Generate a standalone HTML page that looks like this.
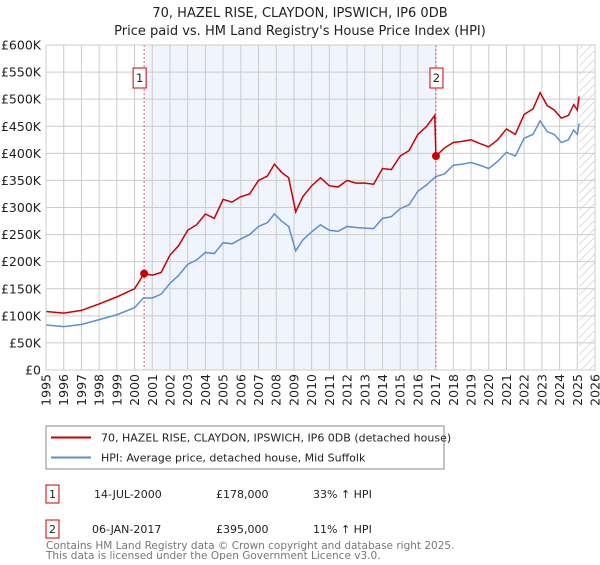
<!DOCTYPE html>
<html><head><meta charset="utf-8"><style>
body{margin:0;background:#fff;font-family:"Liberation Sans","DejaVu Sans",sans-serif;}
svg text{font-family:"DejaVu Sans","Liberation Sans",sans-serif;}
</style></head><body>
<svg id="c" width="600" height="560" xmlns="http://www.w3.org/2000/svg">
<defs><pattern id="hatch" width="6" height="6" patternUnits="userSpaceOnUse" patternTransform="rotate(45)"><line x1="0" y1="0" x2="0" y2="6" stroke="#bbb" stroke-width="1"/></pattern></defs>
<text x="300" y="17" text-anchor="middle" font-size="13" fill="#222">70, HAZEL RISE, CLAYDON, IPSWICH, IP6 0DB</text>
<text x="300" y="35" text-anchor="middle" font-size="13" fill="#222">Price paid vs. HM Land Registry's House Price Index (HPI)</text>
<g id="plot"></g>
<rect x="46" y="426" width="398" height="43" fill="#fff" stroke="#888"/>
<line x1="51" y1="437.5" x2="91" y2="437.5" stroke="#cc0000" stroke-width="2"/>
<text x="101" y="441.5" font-size="11" fill="#222">70, HAZEL RISE, CLAYDON, IPSWICH, IP6 0DB (detached house)</text>
<line x1="51" y1="457.5" x2="91" y2="457.5" stroke="#5b8fd0" stroke-width="2"/>
<text x="101" y="461.5" font-size="11" fill="#222">HPI: Average price, detached house, Mid Suffolk</text>
<g>
<rect x="46" y="485" width="13" height="18" fill="#fff" stroke="#cc0000"/>
<text x="52.5" y="498" text-anchor="middle" font-size="11" fill="#222">1</text>
<text x="94" y="498" font-size="11" fill="#222">14-JUL-2000</text>
<text x="216" y="498" font-size="11" fill="#222">£178,000</text>
<text x="313" y="498" font-size="11" fill="#222">33% ↑ HPI</text></g>
<g>
<rect x="46" y="520" width="13" height="18" fill="#fff" stroke="#cc0000"/>
<text x="52.5" y="533" text-anchor="middle" font-size="11" fill="#222">2</text>
<text x="92" y="533" font-size="11" fill="#222">06-JAN-2017</text>
<text x="216" y="533" font-size="11" fill="#222">£395,000</text>
<text x="313" y="533" font-size="11" fill="#222">11% ↑ HPI</text></g>
<text x="46" y="549" font-size="10.5" fill="#777">Contains HM Land Registry data © Crown copyright and database right 2025.</text>
<text x="46" y="559" font-size="10.5" fill="#777">This data is licensed under the Open Government Licence v3.0.</text>
</svg>
<script>
const yTicks=[0,50,100,150,200,250,300,350,400,450,500,550,600];
const yTickLabels=["£0","£50K","£100K","£150K","£200K","£250K","£300K","£350K","£400K","£450K","£500K","£550K","£600K"];
const xYears=[1995,1996,1997,1998,1999,2000,2001,2002,2003,2004,2005,2006,2007,2008,2009,2010,2011,2012,2013,2014,2015,2016,2017,2018,2019,2020,2021,2022,2023,2024,2025,2026];
const saleDates=[2000.54,2017.02];
const salePrices=[178,395];
const saleLabels=["1","2"];
const hpiT=[1995,1996,1997,1998,1999,2000,2000.5,2001,2001.5,2002,2002.5,2003,2003.5,2004,2004.5,2005,2005.5,2006,2006.5,2007,2007.5,2007.9,2008.3,2008.7,2009.1,2009.5,2010,2010.5,2011,2011.5,2012,2012.5,2013,2013.5,2014,2014.5,2015,2015.5,2016,2016.5,2017,2017.5,2018,2018.5,2019,2019.5,2020,2020.5,2021,2021.5,2022,2022.5,2022.9,2023.3,2023.7,2024.1,2024.5,2024.8,2025.0,2025.1];
const hpiV=[83,80,84,93,102,115,133,133,140,160,175,195,203,217,215,235,233,242,250,265,272,288,275,265,220,240,255,268,258,256,265,263,262,261,280,283,298,305,330,342,357,362,378,380,383,378,372,385,402,395,428,435,460,440,435,420,425,443,435,455];
const propT=[1995,1996,1997,1998,1999,2000,2000.54,2001,2001.5,2002,2002.5,2003,2003.5,2004,2004.5,2005,2005.5,2006,2006.5,2007,2007.5,2007.9,2008.3,2008.7,2009.1,2009.5,2010,2010.5,2011,2011.5,2012,2012.5,2013,2013.5,2014,2014.5,2015,2015.5,2016,2016.5,2016.95,2017.02,2017.5,2018,2018.5,2019,2019.5,2020,2020.5,2021,2021.5,2022,2022.5,2022.9,2023.3,2023.7,2024.1,2024.5,2024.8,2025.0,2025.1];
const propV=[108,105,110,122,135,150,178,175,180,212,230,258,268,288,280,315,310,320,325,350,358,380,365,355,292,320,340,355,340,338,350,345,345,343,372,370,395,405,435,450,470,395,410,420,422,425,418,412,425,445,435,472,482,512,488,480,465,470,490,480,505];
const X0=46,X1=595,Y0=370,Y1=45,x0=1995,x1=2026;
const xs=t=>X0+(t-x0)/(x1-x0)*(X1-X0);
const ys=v=>Y0-v/600*(Y0-Y1);
const NS="http://www.w3.org/2000/svg";
const plot=document.getElementById('plot');
function mk(tag,attrs,parent){const e=document.createElementNS(NS,tag);for(const k in attrs)e.setAttribute(k,attrs[k]);(parent||plot).appendChild(e);return e;}
let e;
e=mk('rect',{x:xs(saleDates[0]),y:Y1,width:xs(saleDates[1])-xs(saleDates[0]),height:Y0-Y1,fill:'#f0f4fc'});


e=mk('rect',{x:xs(2025.1),y:Y1,width:X1-xs(2025.1),height:Y0-Y1,fill:'url(#hatch)'});


yTicks.forEach((v,i)=>{
 e=mk('line',{x1:X0,x2:X1,y1:ys(v),y2:ys(v),stroke:'#ccc','stroke-width':1});
 
 
 e=mk('text',{x:X0-5,y:ys(v)+4.5,'text-anchor':'end','font-size':12.5,fill:'#222'});
 e.textContent=yTickLabels[i];
 
 
});
xYears.forEach(y=>{
 e=mk('line',{x1:xs(y),x2:xs(y),y1:Y1,y2:Y0,stroke:'#ccc','stroke-width':1});
 
 
 e=mk('text',{x:0,y:0,'text-anchor':'end','font-size':12.5,fill:'#222',transform:`translate(${xs(y)+4.5},${Y0+4}) rotate(-90)`});
 e.textContent=y;
 
 
});
saleDates.forEach((d,i)=>{
 e=mk('line',{x1:xs(d),x2:xs(d),y1:Y1,y2:Y0,stroke:'#e06060','stroke-width':1,'stroke-dasharray':'2,2'});
 
 
});
e=mk('polyline',{points:hpiT.map((t,i)=>xs(t)+','+ys(hpiV[i])).join(' '),fill:'none',stroke:'#5b8fd0','stroke-width':1.5});


e=mk('polyline',{points:propT.map((t,i)=>xs(t)+','+ys(propV[i])).join(' '),fill:'none',stroke:'#cc0000','stroke-width':1.5});


saleDates.forEach((d,i)=>{
 e=mk('circle',{cx:xs(d),cy:ys(salePrices[i]),r:4,fill:'#cc0000'});
 
 
 const bx=xs(d)-6-(i==0?5:0);
 e=mk('rect',{x:bx,y:68,width:13,height:20,fill:'#fff',stroke:'#cc0000'});
 
 
 e=mk('text',{x:bx+6.5,y:82,'text-anchor':'middle','font-size':11.5,fill:'#222'});
 e.textContent=saleLabels[i];
 
 
});
e=mk('rect',{x:X0,y:Y1,width:X1-X0,height:Y0-Y1,fill:'none',stroke:'#ccc'});


</script>
</body></html>
